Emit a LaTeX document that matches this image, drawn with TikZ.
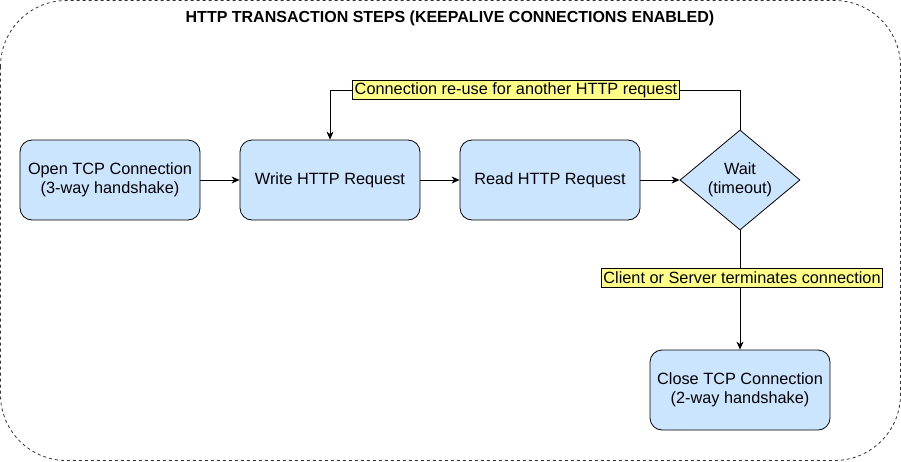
\documentclass[tikz,border=0pt]{standalone}
\usepackage{fontspec}
\setmainfont{Liberation Sans}
\usetikzlibrary{arrows.meta,shapes.geometric}
\definecolor{boxblue}{HTML}{CCE5FF}
\definecolor{noteyellow}{HTML}{FFFF88}
\begin{document}
\begin{tikzpicture}[x=1pt,y=-1pt,
  stepbox/.style={draw=black,fill=boxblue,rounded corners=12pt,minimum width=180pt,minimum height=80pt,align=center,font=\fontsize{16.3}{19.5}\selectfont,line width=0.8pt},
  waitbox/.style={draw=black,fill=boxblue,diamond,minimum width=120pt,minimum height=100pt,align=center,font=\fontsize{16.3}{19.5}\selectfont,line width=0.8pt,inner sep=0pt},
  notebox/.style={draw=black,fill=noteyellow,inner sep=2pt,minimum height=19pt,font=\fontsize{16.3}{19.5}\selectfont,line width=0.8pt},
  conn/.style={line width=0.8pt,-{Stealth[length=8pt,width=7pt,inset=2.5pt]}},
  plain/.style={line width=0.8pt}]
\useasboundingbox (0,0) rectangle (901,461);
\draw[dash pattern=on 3pt off 3pt,line width=0.8pt,black!80,rounded corners=66pt] (0.5,0.5) rectangle (900.5,460.5);
\node[font=\bfseries\fontsize{16}{19}\selectfont] (title) at (450,18) {HTTP TRANSACTION STEPS (KEEPALIVE CONNECTIONS ENABLED)};
\node[stepbox] (open) at (110,180) {Open TCP Connection\\(3-way handshake)};
\node[stepbox] (write) at (330,180) {Write HTTP Request};
\node[stepbox] (read) at (550,180) {Read HTTP Request};
\node[waitbox] (wait) at (740,180) {Wait\\(timeout)};
\node[stepbox] (close) at (740,390) {Close TCP Connection\\(2-way handshake)};
\node[notebox] (reuse) at (516,90) {Connection re-use for another HTTP request};
\node[notebox] (term) at (742,278) {Client or Server terminates connection};
\coordinate (c1) at (740,90);
\coordinate (c2) at (330,90);
\draw[conn] (open) -- (write);
\draw[conn] (write) -- (read);
\draw[conn] (read) -- (wait.west);
\draw[plain] (wait.north) -- (c1) -- (reuse.east);
\draw[conn] (reuse.west) -- (c2) -- (write.north);
\draw[plain] (wait.south) -- (wait.south |- term.north);
\draw[conn] (wait.south |- term.south) -- (close.north);
\end{tikzpicture}
\end{document}
